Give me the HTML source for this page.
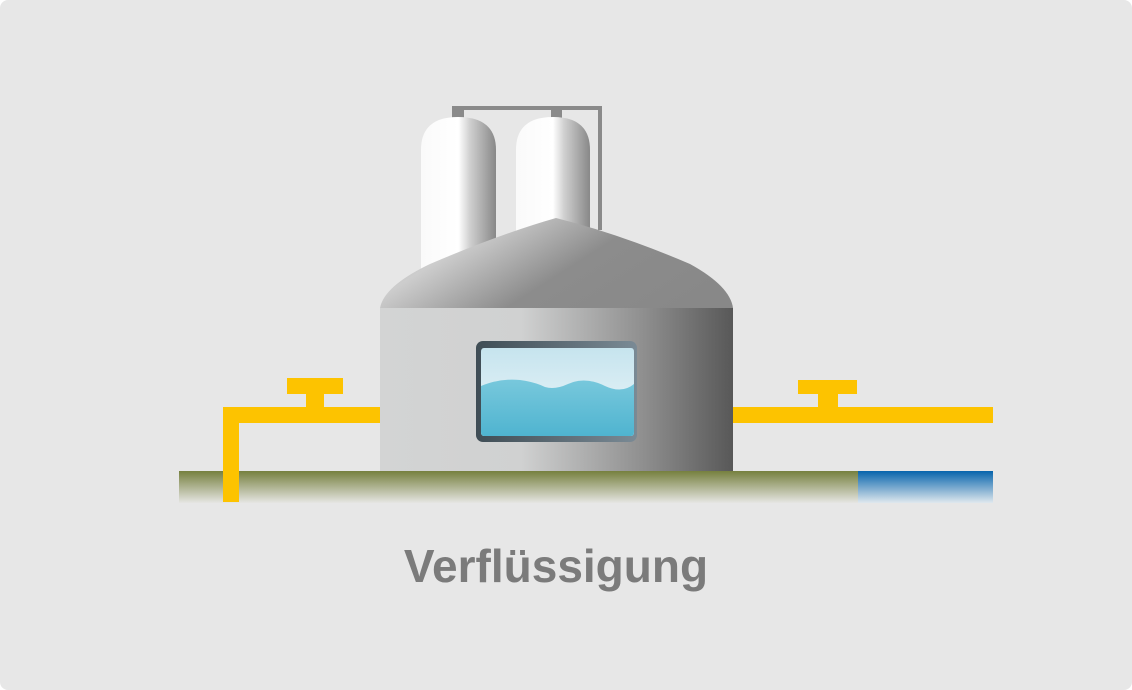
<!DOCTYPE html>
<html><head><meta charset="utf-8"><style>
html,body{margin:0;padding:0;background:#fff;}
.card{position:absolute;left:0;top:0;width:1132px;height:690px;background:#e7e7e7;border-radius:8px;overflow:hidden;}
svg{position:absolute;left:0;top:0;}
.t{position:absolute;left:0;width:1112px;top:539px;text-align:center;font-family:"Liberation Sans","DejaVu Sans",sans-serif;font-weight:bold;font-size:46px;color:#7b7b7b;letter-spacing:0px;}
</style></head><body>
<div class="card">
<svg width="1132" height="690" viewBox="0 0 1132 690">
<defs>
<linearGradient id="cyl" x1="0" x2="1" y1="0" y2="0">
<stop offset="0" stop-color="#fafafa"/><stop offset="0.5" stop-color="#ffffff"/><stop offset="0.65" stop-color="#d0d0d0"/><stop offset="1" stop-color="#888"/>
</linearGradient>
<linearGradient id="roof" x1="0" x2="1" y1="0.3" y2="0.7">
<stop offset="0" stop-color="#a8a8a8"/><stop offset="0.2" stop-color="#cdcdcd"/><stop offset="0.55" stop-color="#8c8c8c"/><stop offset="1" stop-color="#888"/>
</linearGradient>
<linearGradient id="body" x1="0" x2="1" y1="0" y2="0">
<stop offset="0" stop-color="#d3d4d4"/><stop offset="0.4" stop-color="#d0d1d1"/><stop offset="0.75" stop-color="#8e8e8e"/><stop offset="1" stop-color="#585858"/>
</linearGradient>
<linearGradient id="frame" x1="0" x2="1" y1="0" y2="0">
<stop offset="0" stop-color="#3f4d55"/><stop offset="1" stop-color="#7a8a95"/>
</linearGradient>
<linearGradient id="sky" x1="0" x2="0" y1="0" y2="1">
<stop offset="0" stop-color="#c6e4ee"/><stop offset="1" stop-color="#eef7fa"/>
</linearGradient>
<linearGradient id="water" x1="0" x2="0" y1="0" y2="1">
<stop offset="0" stop-color="#78c8dc"/><stop offset="1" stop-color="#4fb4d0"/>
</linearGradient>
<linearGradient id="grass" x1="0" x2="0" y1="0" y2="1">
<stop offset="0" stop-color="#76803e"/><stop offset="1" stop-color="#e6e6e3"/>
</linearGradient>
<linearGradient id="blue" x1="0" x2="0" y1="0" y2="1">
<stop offset="0" stop-color="#0764ac"/><stop offset="1" stop-color="#e0e8ee"/>
</linearGradient>
</defs>
<path d="M458 117 V108 H600 V230" fill="none" stroke="#8a8a8a" stroke-width="4"/>
<rect x="452" y="106" width="12" height="14" fill="#8a8a8a"/>
<rect x="551" y="106" width="11" height="14" fill="#8a8a8a"/>
<path d="M421 300 V150 Q421 117 458 117 Q496 117 496 150 V300 Z" fill="url(#cyl)"/>
<path d="M516 300 V150 Q516 117 553 117 Q590 117 590 150 V300 Z" fill="url(#cyl)"/>
<rect x="179" y="471" width="679" height="32" fill="url(#grass)"/>
<rect x="858" y="471" width="135" height="32" fill="url(#blue)"/>
<g fill="#fdc300">
<rect x="223" y="407" width="160" height="16"/>
<rect x="223" y="407" width="16" height="95"/>
<rect x="287" y="378" width="56" height="16"/>
<rect x="306" y="393" width="18" height="15"/>
<rect x="730" y="407" width="263" height="16"/>
<rect x="798" y="380" width="59" height="14"/>
<rect x="818" y="393" width="20" height="15"/>
</g>
<path d="M380 308 Q384 286 430 264 Q500 234 556 218 Q620 234 690 264 Q730 286 733 308 Z" fill="url(#roof)"/>
<rect x="380" y="308" width="353" height="163" fill="url(#body)"/>
<rect x="476" y="341" width="161" height="101" rx="7" fill="url(#frame)"/>
<path d="M484 348 H631 Q634 348 634 352 V432 Q634 436 631 436 H484 Q481 436 481 432 V352 Q481 348 484 348 Z" fill="url(#sky)"/>
<path d="M481 386 Q500 378 520 380 Q535 382 545 387 Q555 390 568 384 Q585 376 605 386 Q622 394 634 384 V432 Q634 436 631 436 H484 Q481 436 481 432 Z" fill="url(#water)"/>
</svg>
<div class="t">Verflüssigung</div>
</div>
</body></html>
